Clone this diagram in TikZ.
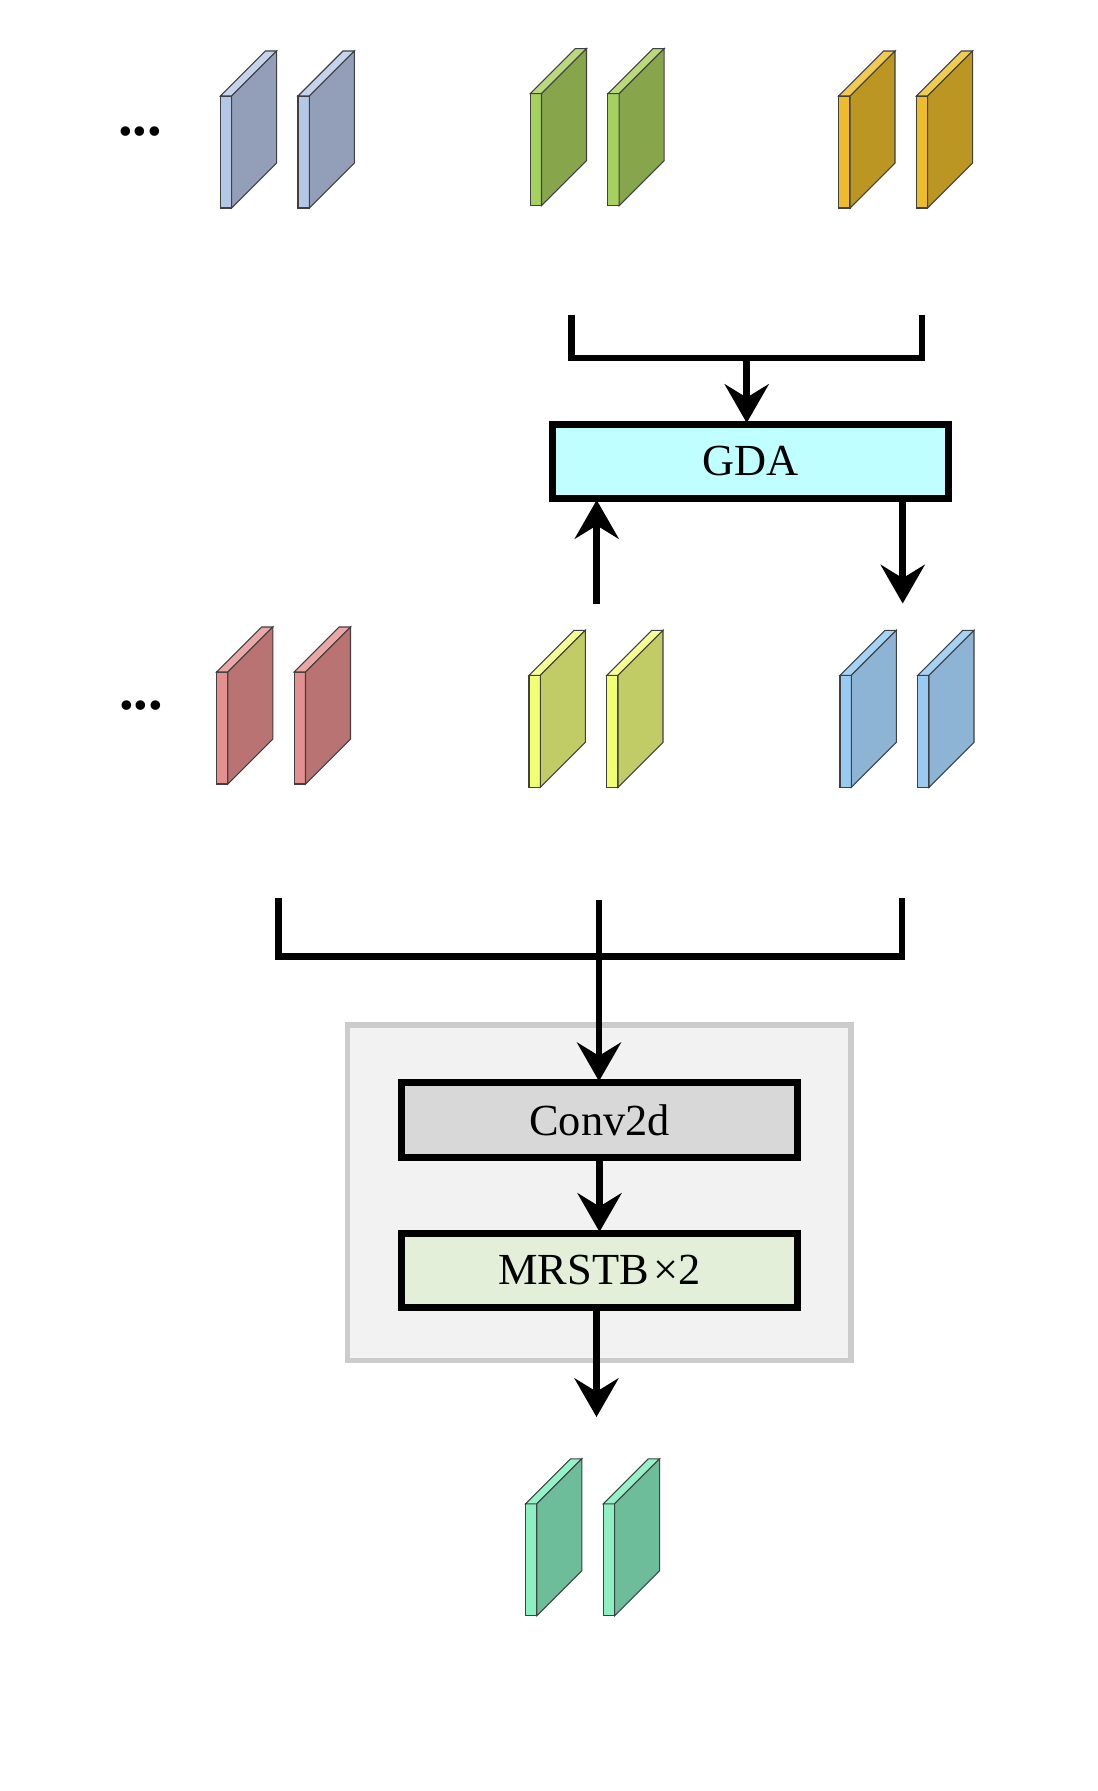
\documentclass[tikz,border=0pt]{standalone}
\usepackage{xcolor}
\usepackage{fontspec}
\setmainfont{Liberation Serif}
\usetikzlibrary{arrows.meta}

\definecolor{bluefront}{HTML}{B4C7E7}
\definecolor{blueside}{HTML}{939FB8}
\definecolor{bluetop}{HTML}{C5D3EC}
\definecolor{greenfront}{HTML}{A5D25E}
\definecolor{greenside}{HTML}{87A64C}
\definecolor{greentop}{HTML}{BAD97F}
\definecolor{goldfront}{HTML}{EEBC2A}
\definecolor{goldside}{HTML}{BC9622}
\definecolor{goldtop}{HTML}{F0CB50}
\definecolor{redfront}{HTML}{E49090}
\definecolor{redside}{HTML}{B97372}
\definecolor{redtop}{HTML}{EBA7A7}
\definecolor{limefront}{HTML}{F3FF73}
\definecolor{limeside}{HTML}{C2CC66}
\definecolor{limetop}{HTML}{F6FF93}
\definecolor{skyfront}{HTML}{98CAF2}
\definecolor{skyside}{HTML}{8DB3D5}
\definecolor{skytop}{HTML}{A6D2F3}
\definecolor{mintfront}{HTML}{8CF0C0}
\definecolor{mintside}{HTML}{6DBD9B}
\definecolor{minttop}{HTML}{96F0C8}

% one slab: #1 left edge, #2 bottom edge, #3 colour prefix
\newcommand{\slab}[3]{%
  \draw[slabline,fill=#3front] (#1,#2) rectangle ++(11.3,-112);
  \draw[slabline,fill=#3top] (#1,#2-112) -- ++(45,-45) -- ++(11.3,0) -- ++(-45,45) -- cycle;
  \draw[slabline,fill=#3side] (#1+11.3,#2) -- ++(45,-45) -- ++(0,-112) -- ++(-45,45) -- cycle;
}
\newcommand{\slabpair}[3]{\slab{#1}{#2}{#3}\slab{#1+77.7}{#2}{#3}}

\begin{document}
\begin{tikzpicture}[
  x=0.75pt,y=-0.75pt,
  slabline/.style={draw=black!75,line width=0.8pt},
  box/.style={draw=black,line width=5pt,inner sep=0pt,font=\fontsize{33.3}{36}\selectfont},
  line/.style={draw=black,line width=5pt,line cap=butt,miter limit=10},
  arrow/.style={line,shorten >=-1.5pt,-{Stealth[length=29pt,width=33pt,inset=10pt]}},
  dots/.style={font=\fontsize{44}{48}\selectfont\bfseries,inner sep=0pt,anchor=base}
]
\useasboundingbox (0,0) rectangle (1097,1791);
\fill[white] (0,0) rectangle (1097,1791);

\node[draw=black!20,fill=black!5,line width=4.2pt,minimum width=503.5pt*0.75,minimum height=335.5pt*0.75] (group) at (599.2,1192.7) {};
\node[box,fill={rgb,255:red,192;green,255;blue,255},minimum width=396pt*0.75,minimum height=74.5pt*0.75] (gda) at (750.7,461.5) {GDA};
\node[box,fill={rgb,255:red,216;green,216;blue,216},minimum width=395.5pt*0.75,minimum height=75pt*0.75] (conv) at (599.5,1120) {Conv2d};
\node[box,fill={rgb,255:red,227;green,239;blue,217},minimum width=395.5pt*0.75,minimum height=74pt*0.75] (mrstb) at (599.5,1270.2) {MRSTB\hspace{0.1em}×2};

\node[dots] (dotstop) at (140,136) {...};
\node[dots] (dotsmid) at (141,709) {...};

\slabpair{220.3}{208}{blue}
\slabpair{530.2}{205.7}{green}
\slabpair{838.7}{208}{gold}
\slabpair{216.5}{784}{red}
\slabpair{529}{787.3}{lime}
\slabpair{840}{787.3}{sky}
\slabpair{525.6}{1615.8}{mint}

\coordinate (bracketa) at (571.5,315);
\coordinate (bracketb) at (922,315);
\coordinate (brackettip) at (746.7,358);
\coordinate (gdain) at (596.7,604);
\coordinate (gdaout) at (902.7,601.5);
\coordinate (fusea) at (278.8,898);
\coordinate (fuseb) at (902,898);
\coordinate (fusec) at (599,900);
\coordinate (fusebase) at (599,956.5);
\coordinate (outtip) at (596.5,1415);

\draw[line] (bracketa) |- (bracketb |- brackettip) -- (bracketb);
\draw[arrow] (brackettip) -- (brackettip |- gda.north);
\draw[arrow] (gdain) -- (gdain |- gda.south);
\draw[arrow] (gdaout |- gda.south) -- (gdaout);
\draw[line] (fusea) |- (fuseb |- fusebase) -- (fuseb);
\draw[arrow] (fusec) -- (fusec |- conv.north);
\draw[arrow] (conv.south) -- (mrstb.north);
\draw[arrow] (outtip |- mrstb.south) -- (outtip);
\end{tikzpicture}
\end{document}
